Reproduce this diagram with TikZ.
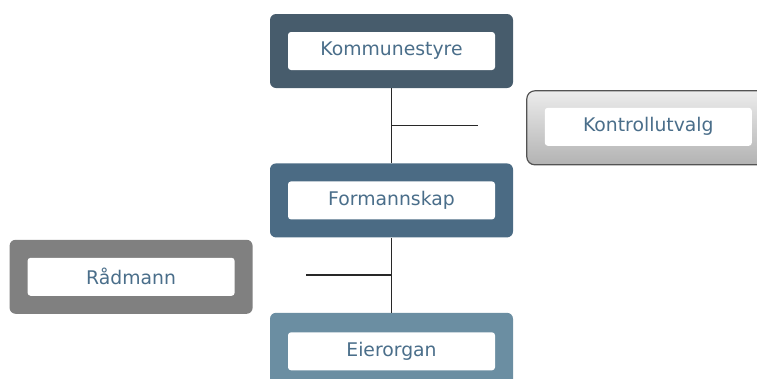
\documentclass[tikz,border=0pt]{standalone}
\usepackage{fontspec}
\setmainfont{DejaVu Sans}
\usepackage{tikz}
\usetikzlibrary{positioning,calc}

\definecolor{ksblue}{RGB}{71,92,108}
\definecolor{fmblue}{RGB}{75,107,132}
\definecolor{eoblue}{RGB}{107,142,162}
\definecolor{rmgray}{RGB}{128,128,128}
\definecolor{txtblue}{RGB}{74,110,138}
\definecolor{linegray}{RGB}{40,40,40}

\tikzset{
  outerbox/.style={shape=rectangle, rounded corners=6pt, minimum width=243pt, minimum height=74pt, inner sep=0pt},
  labelbox/.style={shape=rectangle, rounded corners=3pt, fill=white, minimum width=207pt, minimum height=38pt,
                   inner sep=0pt, text=txtblue, font=\fontsize{18.8}{21}\selectfont},
  link/.style={draw=linegray, line width=1.4pt}
}

\begin{document}
\begin{tikzpicture}[x=1pt,y=1pt]
  \useasboundingbox (0,0) rectangle (757,-378);
  % main chain
  \node[outerbox, fill=ksblue] (ks) at (391.5,-51) {};
  \node[outerbox, fill=fmblue, below=75pt of ks] (fm) {};
  \node[outerbox, fill=eoblue, below=75pt of fm] (eo) {};
  % side units
  \node[outerbox, fill=rmgray, below left=2pt and 17pt of fm.south west] (rm) {};
  \node[outerbox, draw=linegray!80, line width=1.2pt, rounded corners=8pt, top color=gray!15, bottom color=gray!60,
        below right=2pt and 13pt of ks.south east] (ku) {};
  % labels
  \node[labelbox] (ks-t) at (ks) {Kommunestyre};
  \node[labelbox] (fm-t) at (fm) {Formannskap};
  \node[labelbox] (eo-t) at ([yshift=-1.5pt]eo) {Eierorgan};
  \node[labelbox] (rm-t) at (rm) {Rådmann};
  \node[labelbox] (ku-t) at ([yshift=1pt]ku) {Kontrollutvalg};
  % connectors
  \draw[link] (ks) -- (fm);
  \draw[link] (fm) -- (eo);
  \coordinate (ku-end) at ($(ks.south)!0.5!(fm.north)+(86,0)$);
  \coordinate (rm-end) at ($(fm.south)!0.5!(eo.north)+(-86,0)$);
  \draw[link] ($(ks.south)!0.5!(fm.north)$) -- (ku-end);
  \draw[link] ($(fm.south)!0.5!(eo.north)$) -- (rm-end);
\end{tikzpicture}
\end{document}
